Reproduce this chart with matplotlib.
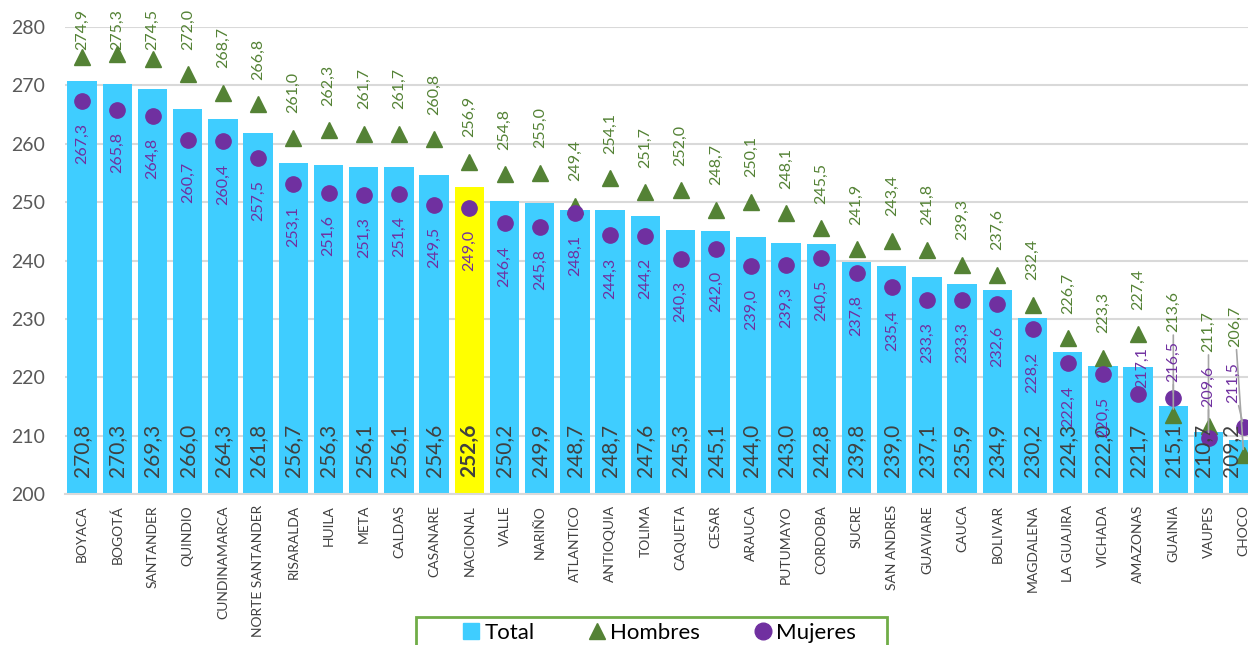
import matplotlib
matplotlib.use('Agg')
from matplotlib import pyplot as plt
from matplotlib.lines import Line2D
from matplotlib.patches import Rectangle
import numpy as np

plt.rcParams['font.family'] = ['Lato', 'DejaVu Sans']

deptos = ['BOYACA', 'BOGOTÁ', 'SANTANDER', 'QUINDIO', 'CUNDINAMARCA',
          'NORTE SANTANDER', 'RISARALDA', 'HUILA', 'META', 'CALDAS',
          'CASANARE', 'NACIONAL', 'VALLE', 'NARIÑO', 'ATLANTICO',
          'ANTIOQUIA', 'TOLIMA', 'CAQUETA', 'CESAR', 'ARAUCA', 'PUTUMAYO',
          'CORDOBA', 'SUCRE', 'SAN ANDRES', 'GUAVIARE', 'CAUCA', 'BOLIVAR',
          'MAGDALENA', 'LA GUAJIRA', 'VICHADA', 'AMAZONAS', 'GUAINIA',
          'VAUPES', 'CHOCO']

total = [270.8, 270.3, 269.3, 266.0, 264.3, 261.8, 256.7, 256.3, 256.1, 256.1,
         254.6, 252.6, 250.2, 249.9, 248.7, 248.7, 247.6, 245.3, 245.1, 244.0,
         243.0, 242.8, 239.8, 239.0, 237.1, 235.9, 234.9, 230.2, 224.3, 222.0,
         221.7, 215.1, 210.7, 209.2]

hombres = [274.9, 275.3, 274.5, 272.0, 268.7, 266.8, 261.0, 262.3, 261.7, 261.7,
           260.8, 256.9, 254.8, 255.0, 249.4, 254.1, 251.7, 252.0, 248.7, 250.1,
           248.1, 245.5, 241.9, 243.4, 241.8, 239.3, 237.6, 232.4, 226.7, 223.3,
           227.4, 213.6, 211.7, 206.7]

mujeres = [267.3, 265.8, 264.8, 260.7, 260.4, 257.5, 253.1, 251.6, 251.3, 251.4,
           249.5, 249.0, 246.4, 245.8, 248.1, 244.3, 244.2, 240.3, 242.0, 239.0,
           239.3, 240.5, 237.8, 235.4, 233.3, 233.3, 232.6, 228.2, 222.4, 220.5,
           217.1, 216.5, 209.6, 211.5]

C_BAR = '#3FCDFF'
C_NAC = '#FFFF00'
C_H = '#548235'
C_M = '#7030A0'

# labels that Excel moved because the tail is crowded: (x shift, y of label bottom)
h_moved = {31: (0.0, 227.7), 32: (0.0, 224.3), 33: (-0.25, 225.2)}
m_moved = {30: (0.1, 218.2), 31: (0.0, 219.2), 32: (0.0, 214.9), 33: (-0.3, 215.6)}
t_moved = {32: -0.15, 33: -0.35}

def fmt(v):
    return ('%.1f' % v).replace('.', ',')

fig = plt.figure(figsize=(12.48, 6.45), dpi=100)
ax = fig.add_axes([64.5 / 1248, 151 / 645, 34 * 35.2 / 1248, 467 / 645])

x = np.arange(len(deptos))
colors = [C_NAC if d == 'NACIONAL' else C_BAR for d in deptos]
ax.bar(x, np.array(total) - 200, bottom=200, width=0.83, color=colors, zorder=2)
ax.plot(x, hombres, ls='none', marker='^', ms=11, color=C_H, zorder=3, clip_on=False)
ax.plot(x, mujeres, ls='none', marker='o', ms=11, color=C_M, zorder=3, clip_on=False)

ax.set_xlim(-0.5, len(deptos) - 0.5)
ax.set_ylim(200, 280)
ax.set_yticks(range(200, 281, 10))
ax.grid(axis='y', color='#D9D9D9', lw=1.5, zorder=0)
ax.set_axisbelow(True)
for s in ['top', 'right', 'left']:
    ax.spines[s].set_visible(False)
ax.spines['bottom'].set_color('#D9D9D9')
ax.spines['bottom'].set_linewidth(1.5)
ax.tick_params(axis='y', length=0, pad=14, labelsize=14, labelcolor='#595959')
ax.tick_params(axis='x', length=0, pad=8)
ax.set_xticks(x)
ax.set_xticklabels(deptos, rotation=90, fontsize=10, color='#404040')

for i in range(len(deptos)):
    # total at the foot of the bar
    ax.annotate(fmt(total[i]), (i + t_moved.get(i, 0), 200), xytext=(0, 12),
                textcoords='offset points', rotation=90, ha='center', va='bottom',
                fontsize=15, color='#404040', annotation_clip=False,
                fontweight='bold' if deptos[i] == 'NACIONAL' else 'normal', zorder=4)
    # hombres above the triangle
    if i in h_moved:
        dx, yb = h_moved[i]
        ax.annotate(fmt(hombres[i]), (i, hombres[i]), xytext=(i + dx, yb),
                    textcoords='data', rotation=90, ha='center', va='bottom',
                    fontsize=11.5, color=C_H, zorder=4, annotation_clip=False,
                    arrowprops=dict(arrowstyle='-', color='#A6A6A6', lw=1.2,
                                    shrinkA=0, shrinkB=4))
    else:
        yb = min(hombres[i] + 4.2, 276.1)
        ax.text(i, yb, fmt(hombres[i]), rotation=90, ha='center', va='bottom',
                fontsize=11.5, color=C_H, zorder=4, clip_on=False)
    # mujeres below the circle
    if i in m_moved:
        dx, yb = m_moved[i]
        arrow = None
        if i > 30:
            arrow = dict(arrowstyle='-', color='#A6A6A6', lw=1.2, shrinkA=0, shrinkB=4)
        ax.annotate(fmt(mujeres[i]), (i, mujeres[i]), xytext=(i + dx, yb),
                    textcoords='data', rotation=90, ha='center', va='bottom',
                    fontsize=11.5, color=C_M, zorder=4, annotation_clip=False,
                    arrowprops=arrow)
    else:
        ax.annotate(fmt(mujeres[i]), (i, mujeres[i]), xytext=(0, -16),
                    textcoords='offset points', rotation=90, ha='center', va='top',
                    fontsize=11.5, color=C_M, zorder=4)

# legend box (drawn separately, it is wider than the entries)
fig.patches.append(Rectangle((416 / 1248, -0.02), 471 / 1248, 28 / 645 + 0.02,
                             transform=fig.transFigure, fill=False,
                             edgecolor='#70AD47', lw=2))
handles = [
    Line2D([], [], ls='none', marker='s', ms=11, color=C_BAR),
    Line2D([], [], ls='none', marker='^', ms=12, color=C_H),
    Line2D([], [], ls='none', marker='o', ms=12, color=C_M),
]
fig.legend(handles, ['Total', 'Hombres', 'Mujeres'], loc='upper center',
           bbox_to_anchor=(658 / 1248, 22 / 645), ncol=3, fontsize=16,
           frameon=False, borderaxespad=0, handletextpad=0.1, handlelength=1.0,
           columnspacing=2.3, borderpad=0)

fig.savefig('out.png', dpi=100)
